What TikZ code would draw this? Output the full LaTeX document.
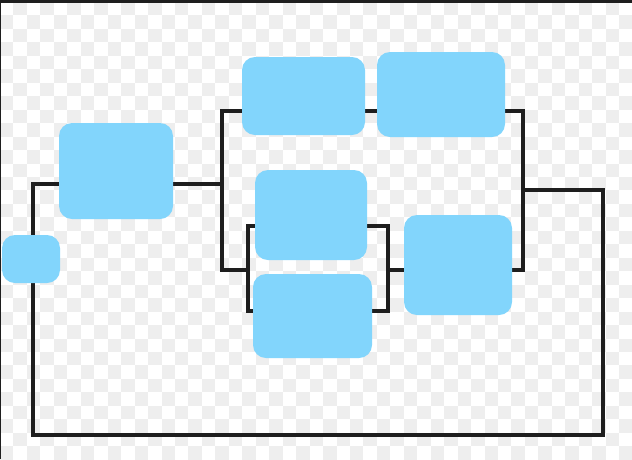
\documentclass[tikz,border=0pt]{standalone}
\usepackage{tikz}
\usetikzlibrary{positioning}
\usetikzlibrary{backgrounds}
\definecolor{blobblue}{RGB}{130,213,252}
\definecolor{wireblack}{RGB}{30,30,30}
\definecolor{checkgray}{RGB}{238,238,238}
\tikzstyle{blob}=[rectangle,rounded corners=13pt,fill=blobblue,inner sep=0pt]
\tikzstyle{wire}=[draw=wireblack,line width=4pt]
\tikzstyle{cell}=[fill=checkgray]

\begin{document}
\begin{tikzpicture}[x=1pt,y=-1pt]

  \def\s{13.46};
  \useasboundingbox (0,0) rectangle (632,459);

  % blocks
  \foreach \x/\y/\w/\h/\name in {31/259/58/48/a, 116/171/114/96/b, 303.5/96/123/78/c, 441/94.5/128/85/d, 311/215/112/90/e, 312.5/316/119/84/f, 458/265/108/100/g}
     \node[blob, minimum width=\w pt, minimum height=\h pt] (\name) at (\x,\y) {};

  % corners of the wires
  \foreach \x/\y/\name in {33/184/p1, 222/184/p2, 222/111/p3, 523/111/p4, 523/190/p5, 603/190/p6, 603/435/p7, 33/435/p8, 222/270/p9, 523/270/p10}
     \coordinate (\name) at (\x,\y);
  \foreach \x/\y/\name in {248/226/q1, 388/226/q2, 388/311/q3, 248/311/q4, 248/270/q5, 388/270/q6}
     \coordinate (\name) at (\x,\y);

  \begin{pgfonlayer}{background}
    \clip (0,0) rectangle (632,459);
    \fill[white] (0,0) rectangle (632,459);
    \foreach \i in {0,...,46}
      \foreach \j in {0,...,33} {
        \ifodd\numexpr\i+\j\relax
          \fill[cell] (\i*\s, 2+\j*\s) rectangle ++(\s,\s);
        \fi
      }

    \draw[wire] (a.north -| p1) -- (p1) -- (b.west |- p1);
    \draw[wire] (b.east |- p2) -- (p2);
    \draw[wire] (c.west |- p3) -- (p3) -- (p9) -- (q5);
    \draw[wire] (c.east |- p3) -- (d.west |- p3);
    \draw[wire] (d.east |- p4) -- (p4) -- (p10) -- (g.east |- p10);
    \draw[wire] (p5) -- (p6) -- (p7) -- (p8) -- (a.south -| p8);

    \draw[wire] (e.west |- q1) -- (q1) -- (q4) -- (f.west |- q4);
    \draw[wire] (e.east |- q2) -- (q2) -- (q3) -- (f.east |- q3);
    \draw[wire] (q6) -- (g.west |- q6);
  \end{pgfonlayer}

  % frame edges
  \fill[wireblack] (0,0) rectangle (632,3);
  \fill[wireblack] (0,0) rectangle (1.3,459);

\end{tikzpicture}
\end{document}
